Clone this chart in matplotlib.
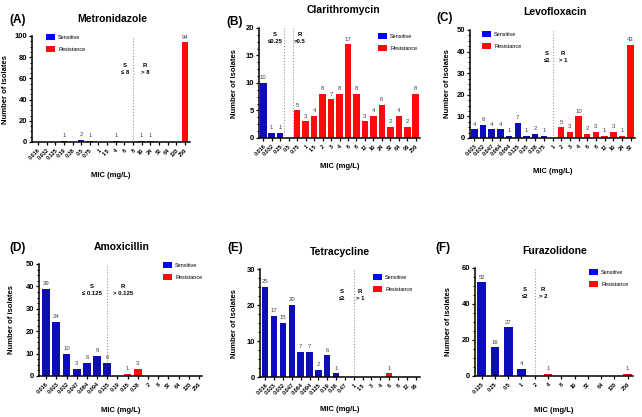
import matplotlib
matplotlib.use('Agg')
import matplotlib.pyplot as plt
from matplotlib.patches import Patch
from matplotlib.ticker import MultipleLocator

plt.rcParams['font.family'] = ['Liberation Sans', 'DejaVu Sans']

W, H = 642, 417

# ---- data (MIC categories and isolate counts) ----
a_mic = ['0.016', '0.032', '0.125', '0.19', '0.38', '0.5', '0.75', '1', '1.5',
         '4', '6', '8', '16', '24', '32', '64', '128', '256']
a_sens = [0, 0, 0, 1, 0, 2, 1, 0, 0, 1, 0, 0, 0, 0, 0, 0, 0, 0]
a_res = [0, 0, 0, 0, 0, 0, 0, 0, 0, 0, 0, 0, 1, 1, 0, 0, 0, 94]

b_mic = ['0.016', '0.032', '0.25', '0.5', '0.75', '1', '1.5', '2', '3', '4',
         '6', '8', '12', '16', '24', '32', '64', '96', '256']
b_sens = [10, 1, 1, 0, 0, 0, 0, 0, 0, 0, 0, 0, 0, 0, 0, 0, 0, 0, 0]
b_res = [0, 0, 0, 0, 5, 3, 4, 8, 7, 8, 17, 8, 3, 4, 6, 2, 4, 2, 8]

c_mic = ['0.023', '0.032', '0.047', '0.064', '0.094', '0.125', '0.25', '0.38',
         '0.75', '1', '2', '3', '4', '6', '8', '12', '16', '24', '32']
c_sens = [4, 6, 4, 4, 1, 7, 1, 2, 1, 0, 0, 0, 0, 0, 0, 0, 0, 0, 0]
c_res = [0, 0, 0, 0, 0, 0, 0, 0, 0, 0, 5, 3, 10, 2, 3, 1, 3, 1, 43]

d_mic = ['0.016', '0.023', '0.032', '0.047', '0.064', '0.094', '0.125', '0.19',
         '0.25', '0.38', '2', '8', '32', '64', '128', '256']
d_sens = [39, 24, 10, 3, 6, 9, 6, 0, 0, 0, 0, 0, 0, 0, 0, 0]
d_res = [0, 0, 0, 0, 0, 0, 0, 0, 1, 3, 0, 0, 0, 0, 0, 0]

e_mic = ['0.016', '0.023', '0.032', '0.047', '0.064', '0.094', '0.125', '0.19',
         '0.38', '0.47', '1', '1.5', '3', '4', '6', '8', '12', '96']
e_sens = [25, 17, 15, 20, 7, 7, 2, 6, 1, 0, 0, 0, 0, 0, 0, 0, 0, 0]
e_res = [0, 0, 0, 0, 0, 0, 0, 0, 0, 0, 0, 0, 0, 0, 1, 0, 0, 0]

f_mic = ['0.125', '0.25', '0.5', '1', '2', '4', '8', '16', '32', '64', '128', '256']
f_sens = [52, 16, 27, 4, 0, 0, 0, 0, 0, 0, 0, 0]
f_res = [0, 0, 0, 0, 0, 1, 0, 0, 0, 0, 0, 1]

drugs = ['Metronidazole', 'Clarithromycin', 'Levofloxacin',
         'Amoxicillin', 'Tetracycline', 'Furazolidone']
letters = ['(A)', '(B)', '(C)', '(D)', '(E)', '(F)']
s_text = ['S\n≤ 8', 'S\n≤0.25', 'S\n≤1', 'S\n≤ 0.125', 'S\n≤1', 'S\n≤2']
r_text = ['R\n> 8', 'R\n>0.5', 'R\n> 1', 'R\n> 0.125', 'R\n> 1', 'R\n> 2']
ymax = [100, 20, 50, 50, 30, 60]
ystep = [20, 5, 10, 10, 10, 20]

# breakpoint lines, located from the categories
cuts = [[a_mic.index('8')],
        [b_mic.index('0.5') - 0.5, b_mic.index('0.5') + 0.5],
        [c_mic.index('1')],
        [d_mic.index('0.125')],
        [e_mic.index('1')],
        [f_mic.index('2')]]

panels = [(a_mic, a_sens, a_res), (b_mic, b_sens, b_res), (c_mic, c_sens, c_res),
          (d_mic, d_sens, d_res), (e_mic, e_sens, e_res), (f_mic, f_sens, f_res)]

# ---- layout in pixels ----
boxes = [(32, 36, 190, 142), (259, 28, 420, 138), (470, 30, 635, 138),
         (39, 264, 202, 376), (260, 269, 420, 377), (475, 268, 633, 376)]
title_xy = [(112, 19), (343, 10), (555, 12), (122, 247), (340, 252), (555, 251)]
letter_xy = [(18, 20), (235, 22), (445, 18), (18, 248), (235, 248), (443, 248)]
sr_xy = [(125, 145, 69), (275, 300, 38), (547, 563, 57),
         (92, 123, 290), (342, 360, 295), (525, 543, 293)]
leg_xy = [(46, 34), (378, 33), (482, 31), (163, 262), (373, 274), (589, 269)]
xlab_y = [172, 163, 168, 407, 406, 407]
ylab_x = [9, 238, 451, 15, 238, 452]
xpad = [(-0.7, 0.6), (-0.5, 0.5), (-0.5, 0.5), (-0.7, 0.3), (-0.6, 0.5), (-0.5, 0.4)]
widths = [0.75, 0.78, 0.75, 0.75, 0.72, 0.65]

BLUE = '#0d0db8'
RED = '#ff0a0a'

fig = plt.figure(figsize=(W / 100, H / 100), dpi=100)

for i, (mic, sens, res) in enumerate(panels):
    l, t, r, b = boxes[i]
    ax = fig.add_axes([l / W, 1 - b / H, (r - l) / W, (b - t) / H])
    x = list(range(len(mic)))
    ax.bar(x, sens, width=widths[i], color=BLUE, zorder=2)
    ax.bar(x, res, width=widths[i], color=RED, zorder=2)
    for xi, s, rv in zip(x, sens, res):
        v = s + rv
        if v > 0:
            ax.text(xi, v + ymax[i] * 0.025, str(v), ha='center', va='bottom',
                    fontsize=4.3, color='#444444')
    for c in cuts[i]:
        ax.axvline(c, color='#999999', ls=':', lw=0.8, zorder=1)

    ax.set_xlim(xpad[i][0], len(mic) - 1 + xpad[i][1])
    ax.set_ylim(0, ymax[i])
    ax.yaxis.set_major_locator(MultipleLocator(ystep[i]))
    ax.yaxis.set_minor_locator(MultipleLocator(ystep[i] / 4))
    ax.set_xticks(x)
    ax.set_xticklabels(mic, rotation=45, ha='right', rotation_mode='anchor',
                       fontsize=4, fontweight='bold')
    for lab in ax.get_yticklabels():
        lab.set_fontweight('bold')
    ax.tick_params(axis='y', labelsize=5.5, width=0.9, length=2.5, pad=1)
    ax.tick_params(axis='y', which='minor', width=0.7, length=1.4)
    ax.tick_params(axis='x', width=0.9, length=2.5, pad=1.5)
    for sp in ['top', 'right']:
        ax.spines[sp].set_visible(False)
    for sp in ['left', 'bottom']:
        ax.spines[sp].set_linewidth(1.1)

    ax.set_xlabel('MIC (mg/L)', fontsize=5.5, fontweight='bold')
    ax.xaxis.set_label_coords(((l + r) / 2 - l) / (r - l), -(xlab_y[i] - b) / (b - t))
    ax.set_ylabel('Number of isolates', fontsize=5.5, fontweight='bold')
    ax.yaxis.set_label_coords((ylab_x[i] - l) / (r - l), 0.5)

    fig.text(title_xy[i][0] / W, 1 - title_xy[i][1] / H, drugs[i], ha='center',
             va='center', fontsize=7.5, fontweight='bold')
    fig.text(letter_xy[i][0] / W, 1 - letter_xy[i][1] / H, letters[i], ha='center',
             va='center', fontsize=8.5, fontweight='bold')
    sx, rx, sy = sr_xy[i]
    fig.text(sx / W, 1 - sy / H, s_text[i], ha='center', va='center',
             fontsize=4.3, fontweight='bold', linespacing=1.3)
    fig.text(rx / W, 1 - sy / H, r_text[i], ha='center', va='center',
             fontsize=4.3, fontweight='bold', linespacing=1.3)

    handles = [Patch(facecolor='#0000ff', edgecolor='none'),
               Patch(facecolor=RED, edgecolor='none')]
    ax.legend(handles, ['Sensitive', 'Resistance'], loc='upper left',
              bbox_to_anchor=(leg_xy[i][0] / W, 1 - leg_xy[i][1] / H),
              bbox_transform=fig.transFigure, frameon=False, fontsize=4,
              handlelength=1.7, handleheight=1.4, labelspacing=1.0,
              handletextpad=0.5, borderpad=0, borderaxespad=0)

fig.savefig('out.png', dpi=100)
